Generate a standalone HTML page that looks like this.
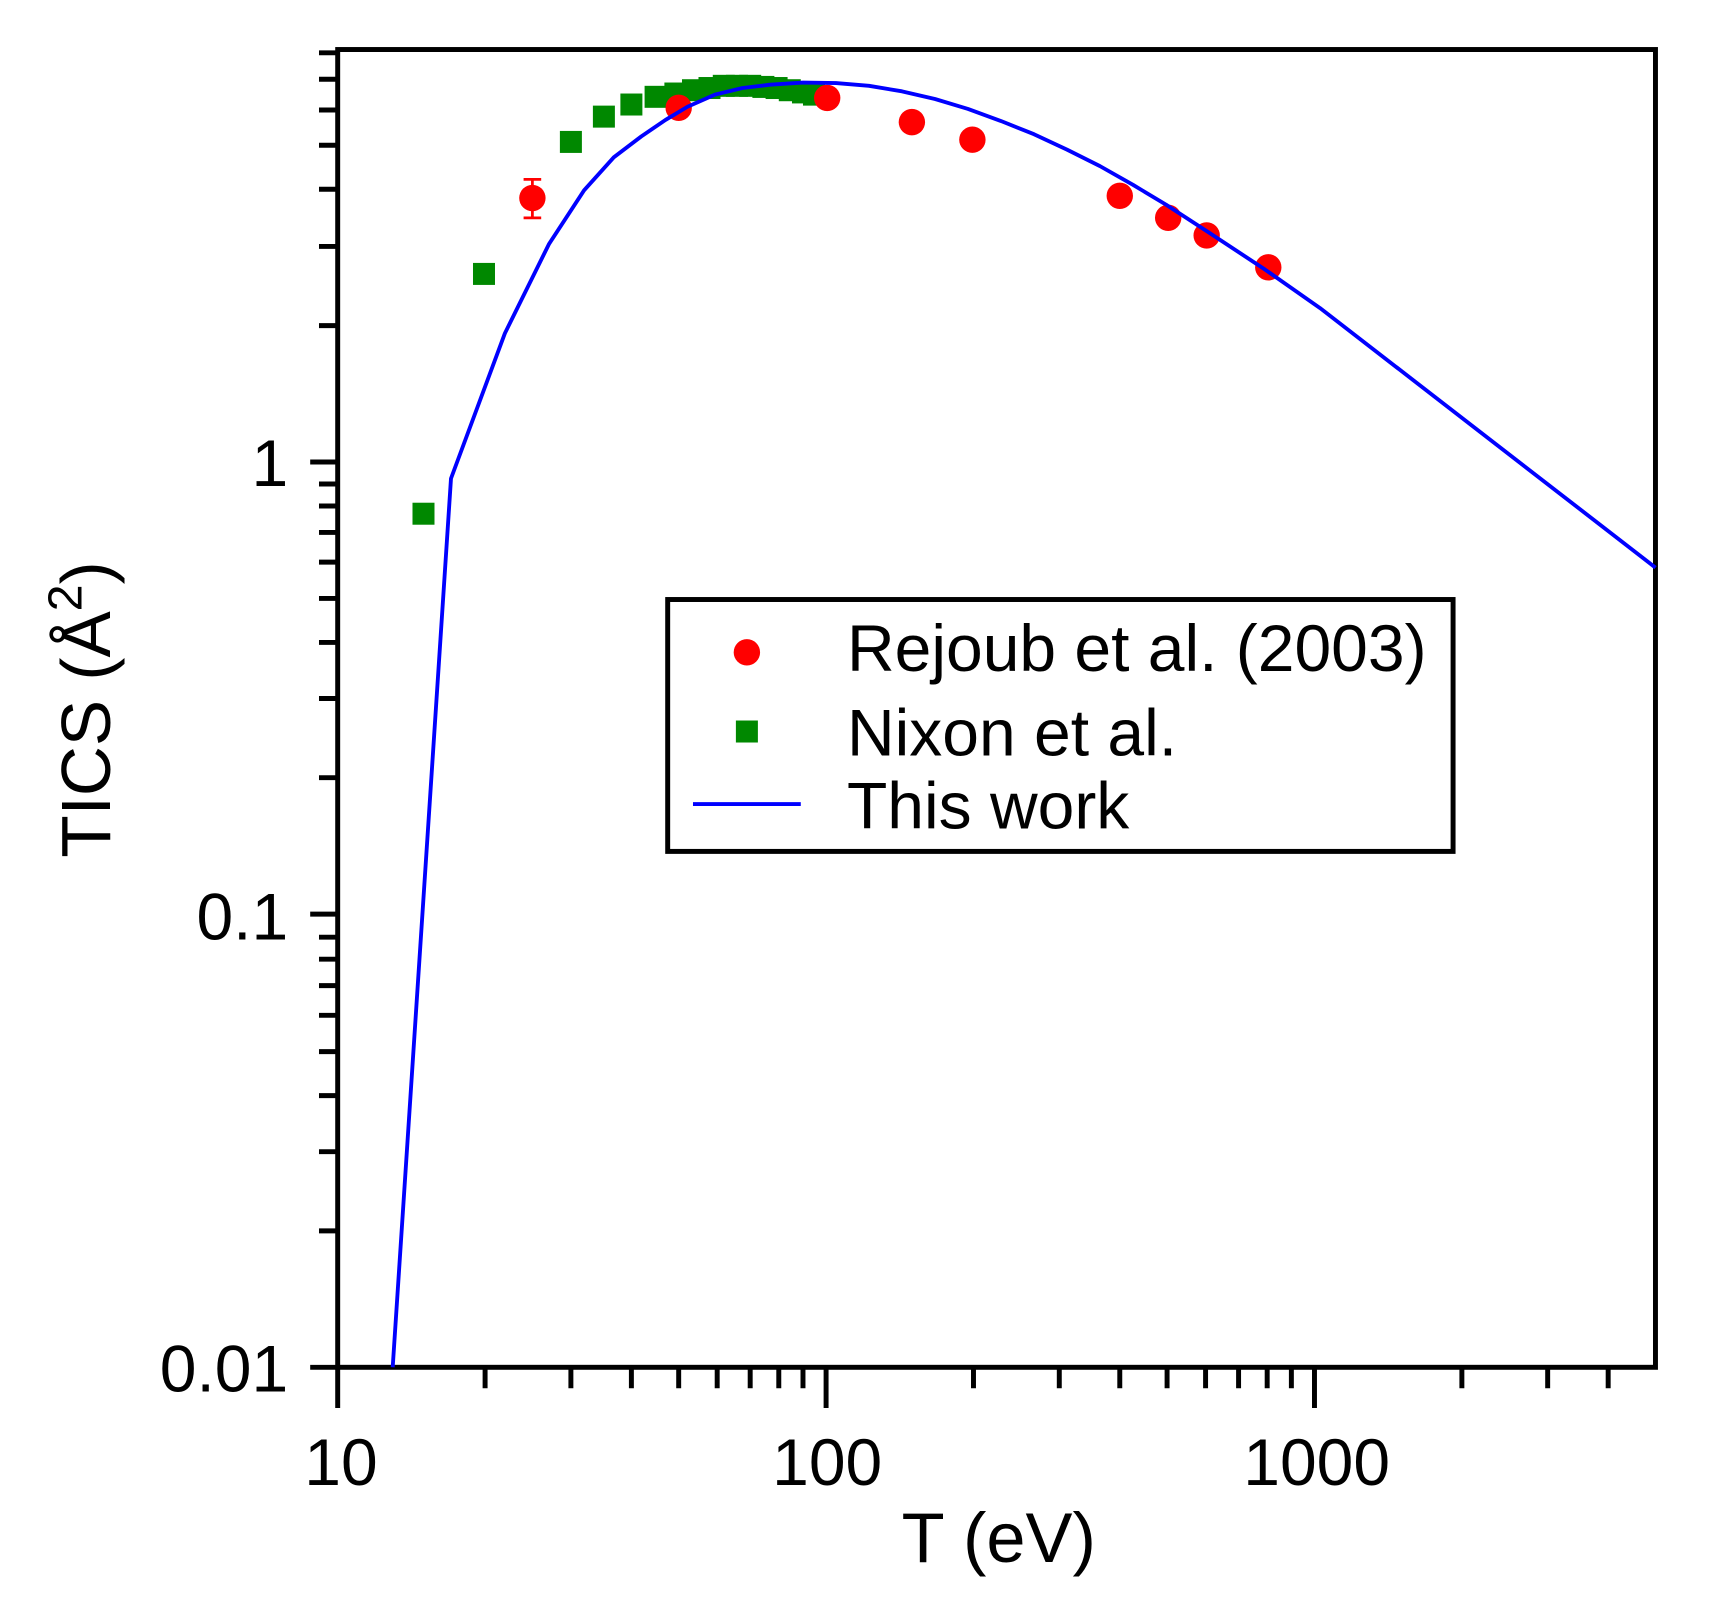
<!DOCTYPE html>
<html><head><meta charset="utf-8"><style>html,body{margin:0;padding:0;background:#fff}svg{display:block}</style></head><body>
<svg width="1724" height="1608" viewBox="0 0 1567.3 1461.8" xmlns="http://www.w3.org/2000/svg" font-family="'Liberation Sans', sans-serif">
<rect width="1567.3" height="1461.8" fill="#fff"/>
<g stroke="#000" stroke-width="4.5">
<path d="M282 1243H307M282 831H307M282 420H307"/>
<path d="M290 1119H307M290 1047H307M290 996H307M290 956H307M290 923H307M290 896H307M290 872H307M290 852H307
M290 707H307M290 635H307M290 584H307M290 544H307M290 511H307M290 484H307M290 460H307M290 440H307
M290 296H307M290 224H307M290 172H307M290 132H307M290 100H307M290 72H307M290 48H307"/>
<path d="M307 1243V1280M751 1243V1280M1195 1243V1280"/>
<path d="M441 1243V1262M519 1243V1262M574 1243V1262M617 1243V1262M652 1243V1262M682 1243V1262M708 1243V1262M730 1243V1262
M885 1243V1262M963 1243V1262M1018 1243V1262M1061 1243V1262M1096 1243V1262M1126 1243V1262M1152 1243V1262M1174 1243V1262
M1329 1243V1262M1407 1243V1262M1462 1243V1262"/>
</g>
<rect x="307" y="45" width="1198" height="1198" fill="none" stroke="#000" stroke-width="4.5"/>
<g fill="#008800">
<rect x="375" y="457" width="20" height="20"/><rect x="430" y="239" width="20" height="20"/><rect x="509" y="119" width="20" height="20"/><rect x="539" y="96" width="20" height="20"/><rect x="564" y="85" width="20" height="20"/><rect x="586" y="78" width="20" height="20"/><rect x="604" y="75" width="20" height="20"/><rect x="620" y="72" width="20" height="20"/><rect x="635" y="70" width="20" height="20"/><rect x="648" y="68" width="20" height="20"/><rect x="660" y="68" width="20" height="20"/><rect x="672" y="68" width="20" height="20"/><rect x="684" y="69" width="20" height="20"/><rect x="696" y="70" width="20" height="20"/><rect x="708" y="72" width="20" height="20"/><rect x="720" y="74" width="20" height="20"/><rect x="730" y="76" width="20" height="20"/>
</g>
<g fill="#ff0000">
<path d="M484 163V198M476 163H492M476 198H492" stroke="#ff0000" stroke-width="2.5"/>
<circle cx="484" cy="180" r="12"/><circle cx="617" cy="98" r="12"/><circle cx="752" cy="89" r="12"/><circle cx="829" cy="111" r="12"/><circle cx="884" cy="127" r="12"/><circle cx="1018" cy="178" r="12"/><circle cx="1062" cy="198" r="12"/><circle cx="1097" cy="214" r="12"/><circle cx="1153" cy="243" r="12"/>
</g>
<polyline fill="none" stroke="#0000ff" stroke-width="3.5" stroke-linejoin="round" points="357,1243 410,435 459,303 499,222 531,173 558,143 583,124 605,109 625,97 650,86 675,80 700,77 730,75 760,75.5 790,78 820,83 850,90 880,99 910,110 940,122 970,136 1000,151 1030,168 1060,186 1100,212 1150,245 1200,280 1505,516"/>
<rect x="607" y="545" width="714" height="229" fill="#fff" stroke="#000" stroke-width="4.5"/>
<circle cx="679" cy="593" r="12" fill="#ff0000"/>
<rect x="669" y="655" width="20" height="20" fill="#008800"/>
<path d="M630 731H728" stroke="#0000ff" stroke-width="3.5"/>
<g font-size="60" fill="#000">
<text x="770" y="610">Rejoub et al. (2003)</text>
<text x="770" y="687">Nixon et al.</text>
<text x="770" y="753">This work</text>
</g>
<g font-size="60" fill="#000" text-anchor="end">
<text x="262" y="1265">0.01</text><text x="262" y="854">0.1</text><text x="262" y="442">1</text>
</g>
<g font-size="60" fill="#000" text-anchor="middle">
<text x="310" y="1350">10</text><text x="752" y="1350">100</text><text x="1197" y="1350">1000</text>
<text x="908" y="1420" font-size="64">T (eV)</text>
<text transform="translate(100,645) rotate(-90)" font-size="63">TICS (Å<tspan dy="-26" font-size="44">2</tspan><tspan dy="26">)</tspan></text>
</g>
</svg>
</body></html>
